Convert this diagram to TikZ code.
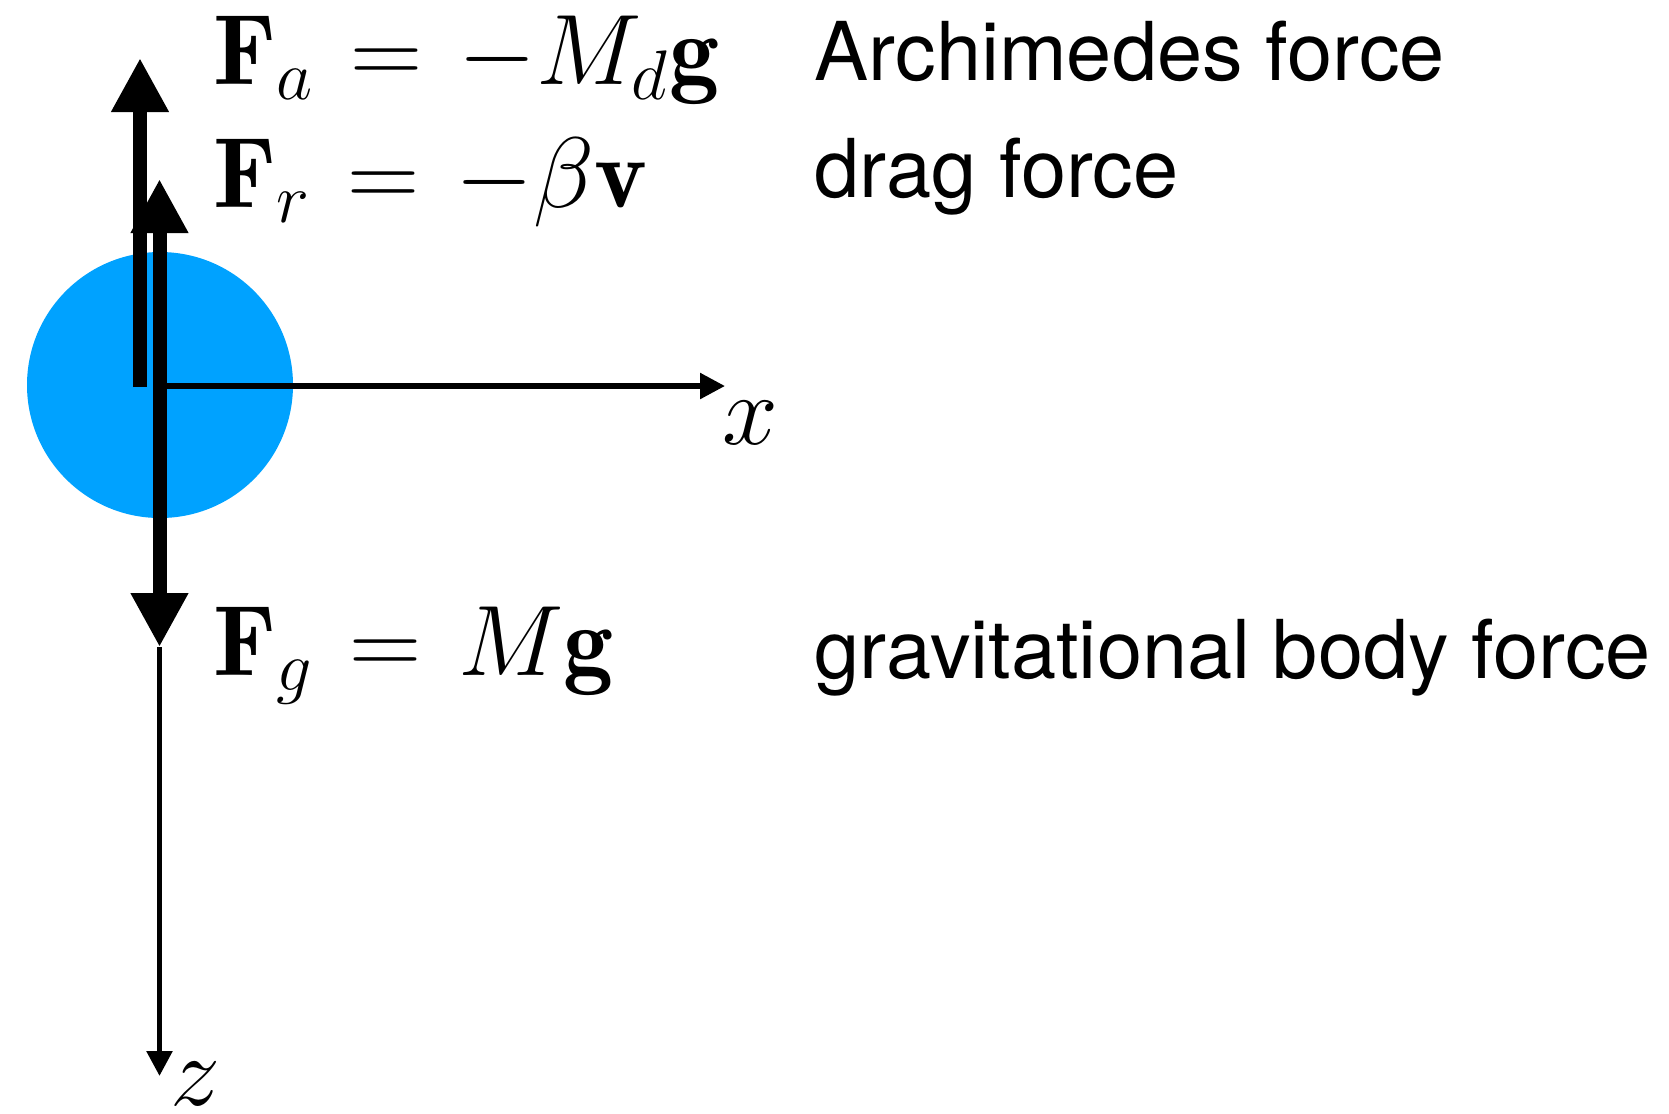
\RequirePackage{fix-cm}
\documentclass[tikz,border=0pt]{standalone}
\usepackage{fontspec}
\setsansfont{TeX Gyre Heros}
\usepackage{amsmath}
\usetikzlibrary{arrows.meta, positioning, calc}
\definecolor{dropblue}{RGB}{0,162,255}
\thickmuskip=6.5mu plus 5mu

\begin{document}
\begin{tikzpicture}[
  drop/.style={circle, fill=dropblue, minimum size=2.66cm, inner sep=0pt},
  force/.style={-{Triangle[length=0.54cm, width=0.54cm]}, line width=0.14cm},
  axis/.style={-{Triangle[length=0.25cm, width=0.25cm]}, line width=0.055cm},
  eqn/.style={anchor=base west, inner sep=0pt, font=\fontsize{28.5}{34}\selectfont},
  txt/.style={anchor=base west, inner sep=0pt, font=\sffamily\fontsize{23.1}{28}\selectfont},
  axlab/.style={inner sep=0pt, font=\fontsize{28.5}{34}\selectfont},
]
\useasboundingbox (0,0) rectangle (16.69,-11.13);

% Drop and reference points
\node[drop] (drop) at (1.60,-3.85) {};
\coordinate (abase) at (1.40,-3.87);
\coordinate (atip) at (1.40,-0.58);
\coordinate (o) at (1.595,-3.86);
\coordinate (rtip) at (1.595,-1.79);
\coordinate (gtip) at (1.595,-6.47);
\coordinate (xorg) at (1.53,-3.86);
\coordinate (xtip) at (7.25,-3.86);
\coordinate (ztip) at (1.595,-10.76);

% Forces
\draw[force] (abase) -- (atip);
\draw[force] (o) -- (rtip);
\draw[force] (o) -- (gtip);

% Axes
\draw[axis] (xorg) -- (xtip);
\draw[axis] (gtip) -- (ztip);
\node[axlab] (xlab) at (7.50,-4.23) {$x$};
\node[axlab] (zlab) at (1.96,-10.84) {$z$};

% Labels
\node[eqn] (fa) at (2.13,-0.84) {$\mathbf{F}_a = -M_d\mathbf{g}$};
\node[eqn] (fr) at (2.13,-2.07) {$\mathbf{F}_r = -\beta\mathbf{v}$};
\node[eqn] (fg) at (2.13,-6.75) {$\mathbf{F}_g = M\mathbf{g}$};
\node[txt] (archi) at (8.14,-0.80) {Archimedes force};
\node[txt] (drag) at (8.14,-1.97) {drag force};
\node[txt] (grav) at (8.14,-6.78) {gravitational body force};

\end{tikzpicture}
\end{document}
